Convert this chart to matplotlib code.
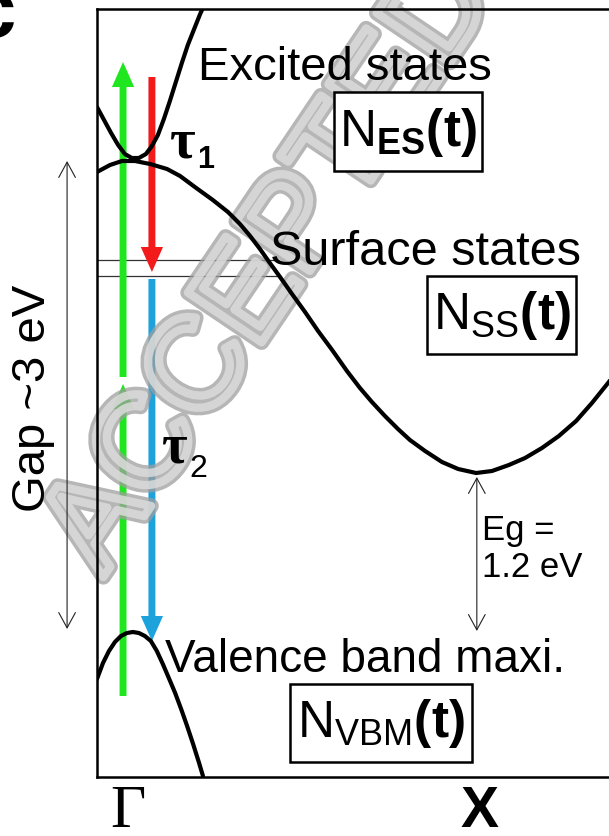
import matplotlib
matplotlib.use("Agg")
import matplotlib.pyplot as plt
import matplotlib.patheffects as pe
from matplotlib.patches import FancyArrowPatch, Rectangle, ArrowStyle

plt.rcParams["font.family"] = ["Liberation Sans", "DejaVu Sans"]
plt.rcParams["mathtext.fontset"] = "custom"
plt.rcParams["mathtext.rm"] = "Liberation Sans"
plt.rcParams["mathtext.bf"] = "Liberation Sans:bold"
plt.rcParams["mathtext.it"] = "Liberation Sans:italic"

# -- Band data (k: Gamma=0 -> X=1, E in arb. eV, VBM = 0) -------------------
excited_k = [-0.088, -0.068, -0.048, -0.028, -0.009, 0.011, 0.031, 0.051, 0.068,
             0.085, 0.102, 0.119, 0.136, 0.153, 0.170, 0.188, 0.205, 0.222]
excited_E = [5.25, 5.12, 4.99, 4.87, 4.78, 4.74, 4.74, 4.78, 4.86,
             4.97, 5.13, 5.31, 5.50, 5.69, 5.87, 6.03, 6.18, 6.31]

cond_k = [-0.088, -0.051, -0.017, 0.020, 0.063, 0.111, 0.148, 0.190, 0.241, 0.284,
          0.318, 0.347, 0.375, 0.403, 0.432, 0.466, 0.503, 0.540, 0.580, 0.622,
          0.659, 0.693, 0.730, 0.767, 0.801, 0.844, 0.892, 0.938, 0.989, 1.034,
          1.082, 1.128, 1.176, 1.224, 1.273, 1.318, 1.366, 1.398]
cond_E = [4.60, 4.67, 4.71, 4.71, 4.68, 4.63, 4.56, 4.45, 4.32, 4.20,
          4.08, 3.96, 3.83, 3.69, 3.55, 3.38, 3.20, 3.01, 2.82, 2.61,
          2.44, 2.30, 2.16, 2.03, 1.92, 1.81, 1.70, 1.63, 1.59, 1.61,
          1.67, 1.74, 1.84, 1.96, 2.11, 2.29, 2.50, 2.65]

val_k = [-0.088, -0.071, -0.054, -0.037, -0.020, -0.003, 0.014, 0.031, 0.048, 0.065,
         0.082, 0.099, 0.116, 0.134, 0.151, 0.168, 0.185, 0.202, 0.213]
val_E = [-0.47, -0.31, -0.19, -0.10, -0.04, -0.01, 0.00, -0.01, -0.04, -0.09,
         -0.19, -0.32, -0.46, -0.61, -0.77, -0.94, -1.12, -1.31, -1.44]

surface_E = [3.72, 3.56]       # two surface-state levels
surface_k_end = 0.426

# transitions: (k, E_from, E_to)
pump = [(-0.014, -0.64, 2.48), (-0.014, 2.55, 5.70)]
relax = [(0.068, 5.55, 3.60), (0.068, 3.53, -0.09)]

gap = (-0.173, 4.71, 0.03)     # "Gap ~3 eV" (drawn left of frame)
eg = (0.991, 1.55, 0.01)       # indirect gap at X

kpoints = [0, 1]
klabels = ["\u0393", "X"]

C_GREEN = "#1fe61f"
C_RED = "#f21a1a"
C_BLUE = "#1ea2dc"

W, H = 609, 837
fig = plt.figure(figsize=(W / 100, H / 100), dpi=100)
fig.patch.set_facecolor("white")


def fx(px):
    return px / W


def fy(py):
    return 1 - py / H


ax = fig.add_axes([fx(97), fy(778), fx(612) - fx(97), fy(10) - fy(778)])
ax.set_xlim(-0.088, 1.375)
ax.set_ylim(-1.45, 6.23)
ax.set_yticks([])
ax.set_xticks(kpoints)
ax.set_xticklabels(klabels)
ax.tick_params(axis="x", length=0, pad=5)
tl = ax.get_xticklabels()
tl[0].set_fontfamily("Liberation Serif")
tl[0].set_fontsize(44)
tl[1].set_fontweight("bold")
tl[1].set_fontsize(41)
for s in ax.spines.values():
    s.set_linewidth(1.8)
    s.set_zorder(2.5)

# -- bands ------------------------------------------------------------------
for k, E in ((excited_k, excited_E), (cond_k, cond_E), (val_k, val_E)):
    ax.plot(k, E, color="black", lw=3.0, solid_capstyle="round", zorder=4)

for e in surface_E:
    ax.plot([-0.088, surface_k_end], [e, e], color="#333333", lw=0.9, zorder=1.5)

# -- transition arrows ------------------------------------------------------
fat = ArrowStyle("simple", head_length=18, head_width=16, tail_width=5)
for k, e0, e1 in pump:
    ax.add_patch(FancyArrowPatch((k, e0), (k, e1), arrowstyle=fat, mutation_scale=1,
                                 fc=C_GREEN, ec="none", shrinkA=0, shrinkB=0, zorder=1.8))
for (k, e0, e1), c in zip(relax, (C_RED, C_BLUE)):
    ax.add_patch(FancyArrowPatch((k, e0), (k, e1), arrowstyle=fat, mutation_scale=1,
                                 fc=c, ec="none", shrinkA=0, shrinkB=0, zorder=1.8))

thin = ArrowStyle("<->", head_length=11, head_width=6)
for k, e0, e1 in (gap, eg):
    ax.add_patch(FancyArrowPatch((k, e0), (k, e1), arrowstyle=thin, mutation_scale=1,
                                 color="#222222", lw=0.8, shrinkA=0, shrinkB=0,
                                 clip_on=False, zorder=3))

# -- watermark --------------------------------------------------------------
ax.text(fx(272), fy(268), "ACCEPTED", transform=fig.transFigure, fontsize=93,
        rotation=56, rotation_mode="anchor", ha="center", va="center",
        color=(1, 1, 1, 0), clip_on=False, zorder=2,
        path_effects=[pe.Stroke(linewidth=11, foreground=(0.62, 0.62, 0.62, 0.75)),
                      pe.Stroke(linewidth=6, foreground=(0.86, 0.86, 0.86, 0.85))])

# -- labels -----------------------------------------------------------------
def label(px, py, s, **kw):
    kw.setdefault("fontsize", 34)
    ax.text(fx(px), fy(py), s, transform=fig.transFigure, va="baseline",
            clip_on=False, zorder=5, **kw)


label(198, 80, "Excited states")
label(270, 265, "Surface states", fontsize=35)
label(165, 672, "Valence band maxi.", fontsize=33)
label(482, 540, "Eg =", fontsize=25)
label(482, 577, "1.2 eV", fontsize=25)
label(170, 157, "\u03c4", fontsize=40, family="Liberation Serif", fontweight="bold")
label(197, 168, "1", fontsize=22, fontweight="bold")
label(162, 463, "\u03c4", fontsize=40, family="Liberation Serif", fontweight="bold")
label(189, 477, "2", fontsize=23)
label(16, 37, "c", fontsize=60, fontweight="bold", ha="right")
ax.text(fx(33), fy(398), "Gap ~3 eV", transform=fig.transFigure, fontsize=34,
        rotation=90, ha="center", va="center", clip_on=False, zorder=5)

boxes = [(334, 93, 148, 79, r"$\mathrm{N}_{\mathbf{ES}}\mathbf{(t)}$"),
         (427, 277, 149, 78, r"$\mathrm{N}_{\mathrm{SS}}\mathbf{(t)}$"),
         (290, 685, 182, 78, r"$\mathrm{N}_{\mathrm{VBM}}\mathbf{(t)}$")]
for x0, y0, w, h, s in boxes:
    ax.add_patch(Rectangle((fx(x0), fy(y0 + h)), w / W, h / H, transform=fig.transFigure,
                           fc="white", ec="black", lw=1.8, clip_on=False, zorder=4.5))
    ax.text(fx(x0 + w / 2), fy(y0 + h / 2), s, transform=fig.transFigure, fontsize=37,
            ha="center", va="center", clip_on=False, zorder=5)

fig.savefig("out.png", dpi=100, facecolor="white")
